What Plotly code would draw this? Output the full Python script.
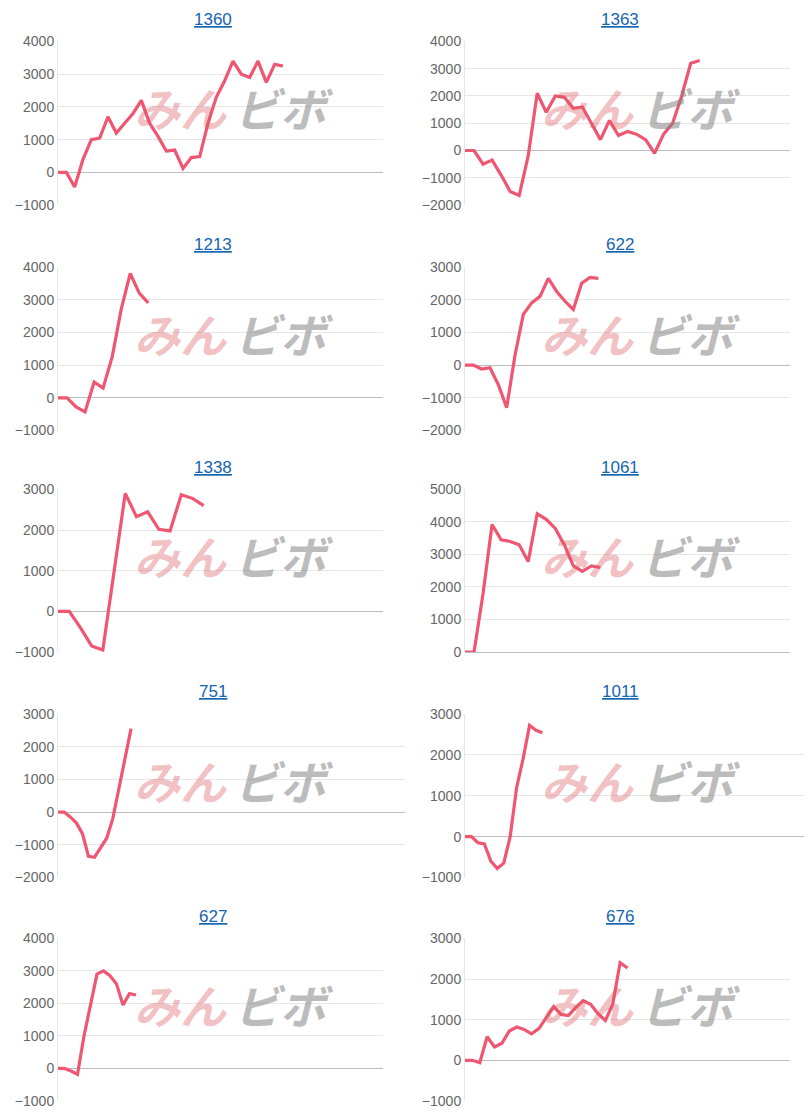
import plotly.graph_objects as go

titles = ["1360", "1363", "1213", "622", "1338", "1061", "751", "1011", "627", "676"]
s1360 = [0, 0, -450, 400, 1000, 1050, 1700, 1200, 1500, 1800, 2200, 1500, 1100, 650, 680, 120, 450, 480, 1500, 2300, 2800, 3400, 3000, 2900, 3400, 2750, 3300, 3250]
s1363 = [0, 0, -500, -350, -900, -1500, -1650, -200, 2100, 1400, 2000, 1950, 1550, 1600, 1000, 400, 1100, 550, 700, 600, 400, -100, 600, 1000, 2000, 3200, 3300]
s1213 = [0, 0, -280, -430, 480, 300, 1250, 2700, 3800, 3200, 2900]
s622 = [0, 0, -120, -80, -600, -1300, 300, 1550, 1900, 2100, 2650, 2250, 1950, 1700, 2500, 2680, 2650]
s1338 = [0, 0, -400, -850, -950, 1000, 2900, 2330, 2450, 2020, 1980, 2870, 2780, 2600]
s1061 = [0, 0, 1800, 3920, 3450, 3400, 3300, 2780, 4250, 4080, 3800, 3300, 2650, 2480, 2650, 2600]
s751 = [0, 0, -150, -330, -650, -1350, -1380, -1100, -800, -200, 700, 1700, 2550]
s1011 = [0, 0, -150, -180, -600, -780, -650, 0, 1200, 1900, 2720, 2600, 2540]
s627 = [0, 0, -80, -180, 1000, 2000, 2900, 3000, 2850, 2600, 1950, 2300, 2260]
s676 = [0, 0, -60, 580, 330, 420, 720, 820, 760, 650, 780, 1050, 1320, 1130, 1100, 1300, 1470, 1380, 1150, 980, 1380, 2400, 2270]
series = [s1360, s1363, s1213, s622, s1338, s1061, s751, s1011, s627, s676]
y_ranges = [[-1000, 4000], [-2000, 4000], [-1000, 4000], [-2000, 3000], [-1000, 3000],
            [0, 5000], [-2000, 3000], [-1000, 3000], [-1000, 4000], [-1000, 3000]]
x_slots = [39, 36, 36, 39, 29, 36, 57, 55, 50, 44]

W, H = 812, 1120
col_x = [(58, 383), (465, 790)]
col_x_wide = [(58, 405), (465, 812)]
row_y = [(40, 204), (266, 430), (489, 652), (714, 878), (939, 1102)]
title_x = [213, 620]


def px(x):
    return min(max((x - 8) / W, 0), 1)


def py(y):
    return min(max(1 - ((y - 14.5) / 0.988) / H, 0), 1)


fig = go.Figure()
annotations = []
for i, (t, s) in enumerate(zip(titles, series)):
    r, c = divmod(i, 2)
    x0, x1 = (col_x_wide if r == 3 else col_x)[c]
    y0, y1 = row_y[r]
    n = i + 1
    sfx = "" if n == 1 else str(n)
    fig.add_trace(go.Scatter(x=list(range(len(s))), y=s, mode="lines",
                             line=dict(color="#ef5671", width=3.2),
                             xaxis=f"x{sfx}", yaxis=f"y{sfx}",
                             showlegend=False, hoverinfo="skip"))
    lo, hi = y_ranges[i]
    fig.layout[f"xaxis{sfx}"] = dict(domain=[px(x0), px(x1 + 8) if x1 >= 800 else px(x1)],
                                     range=[0, x_slots[i]], showticklabels=False,
                                     showgrid=False, zeroline=False, anchor=f"y{sfx}",
                                     showline=False, fixedrange=True)
    fig.layout[f"yaxis{sfx}"] = dict(domain=[py(y1), py(y0)], range=[lo, hi], dtick=1000,
                                     showgrid=True, gridcolor="#e6e6e6", gridwidth=1,
                                     zeroline=True, zerolinecolor="#bdbdbd", zerolinewidth=1.3,
                                     showline=True, linecolor="#e6e6e6", ticks="", ticklen=0,
                                     tickfont=dict(family="Arial, Liberation Sans", size=14, color="#666"),
                                     anchor=f"x{sfx}", fixedrange=True)
    annotations.append(dict(text=f"<u>{t}</u>", x=px(title_x[c]), xanchor="center",
                            y=py(y0 - 22), xref="paper", yref="paper", showarrow=False,
                            yanchor="middle",
                            font=dict(family="Arial, Liberation Sans", size=17, color="#1565b0")))
    wy = py(y0 + 66)
    annotations.append(dict(text="<b><i>みん</i></b>", x=px(col_x[c][0] + 122), y=wy,
                            xref="paper", yref="paper", showarrow=False, xanchor="center",
                            yanchor="middle",
                            font=dict(family="Noto Sans CJK JP", size=46, color="rgba(220,90,95,0.38)")))
    annotations.append(dict(text="<b><i>ビボ</i></b>", x=px(col_x[c][0] + 225), y=wy,
                            xref="paper", yref="paper", showarrow=False, xanchor="center",
                            yanchor="middle",
                            font=dict(family="Noto Sans CJK JP", size=46, color="rgba(130,130,130,0.55)")))

fig.update_layout(width=W, height=H, margin=dict(l=0, r=0, t=0, b=0),
                  plot_bgcolor="white", paper_bgcolor="white", annotations=annotations)
fig.write_html("out.html")
